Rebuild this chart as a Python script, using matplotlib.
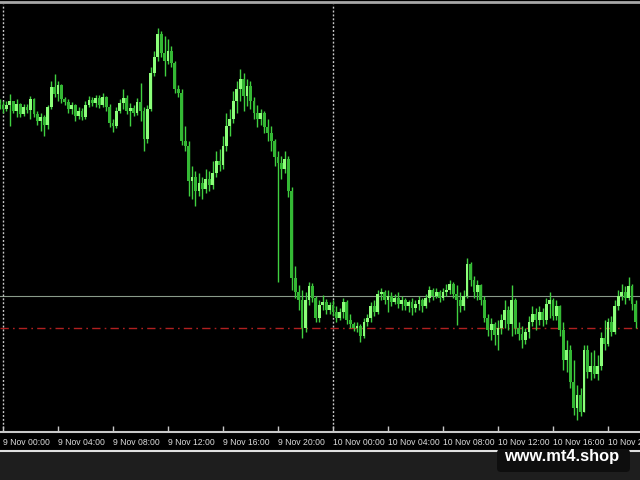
import numpy as np
import pandas as pd
import matplotlib
matplotlib.use("Agg")
import matplotlib.pyplot as plt
import matplotlib.dates as mdates
from matplotlib.patches import FancyBboxPatch, Rectangle
from matplotlib.lines import Line2D

# M15 bars, 8 Nov 23:45 onwards (price in points)
start = "2023-11-08 23:45"
first_open = 348
close = [346, 342, 346, 350, 340, 347, 337, 344, 341, 352, 337, 330, 334, 326, 344, 364,
         357, 366, 352, 349, 342, 346, 335, 340, 334, 346, 351, 348, 353, 346, 354, 344,
         328, 325, 340, 348, 353, 340, 343, 338, 349, 340, 312, 342, 378, 394, 417, 398,
         390, 400, 388, 362, 358, 310, 305, 270, 274, 260, 268, 262, 272, 266, 278, 290,
         286, 305, 325, 332, 350, 362, 372, 355, 365, 350, 338, 332, 338, 324, 318, 310,
         294, 288, 282, 292, 260, 172, 158, 150, 122, 150, 164, 152, 132, 145, 148, 140,
         145, 138, 132, 138, 148, 130, 126, 122, 124, 114, 128, 132, 144, 138, 156, 158,
         150, 154, 148, 152, 146, 150, 144, 148, 142, 146, 150, 144, 152, 160, 154, 158,
         152, 158, 160, 166, 156, 150, 144, 154, 186, 170, 158, 165, 150, 132, 120, 126,
         115, 122, 130, 140, 126, 150, 122, 116, 110, 118, 128, 136, 130, 138, 130, 146,
         150, 134, 144, 120, 90, 100, 68, 42, 55, 38, 100, 78, 84, 76, 84, 112,
         106, 128, 118, 144, 154, 158, 152, 164, 146, 128]
high = [352, 350, 350, 357, 350, 352, 348, 347, 347, 355, 353, 340, 338, 336, 346, 370,
        377, 370, 367, 354, 352, 349, 347, 344, 343, 350, 355, 354, 356, 356, 358, 355,
        347, 332, 344, 352, 362, 356, 348, 346, 353, 368, 344, 346, 384, 400, 423, 420,
        415, 412, 405, 390, 366, 362, 325, 310, 285, 280, 278, 274, 282, 280, 290, 300,
        302, 315, 338, 342, 360, 370, 382, 378, 372, 370, 354, 346, 342, 340, 332, 325,
        312, 300, 295, 300, 295, 264, 184, 165, 160, 158, 168, 167, 154, 150, 155, 151,
        148, 150, 144, 142, 152, 150, 136, 128, 128, 126, 132, 136, 148, 150, 160, 162,
        160, 160, 158, 156, 158, 154, 152, 150, 152, 150, 154, 152, 156, 164, 162, 162,
        160, 162, 166, 170, 168, 165, 158, 160, 192, 188, 174, 170, 166, 154, 136, 132,
        128, 130, 136, 150, 144, 165, 152, 128, 124, 122, 134, 144, 142, 144, 142, 152,
        158, 152, 150, 145, 128, 110, 105, 90, 65, 62, 105, 105, 98, 100, 95, 118,
        130, 132, 134, 150, 160, 166, 164, 173, 166, 150]
low = [342, 338, 340, 325, 338, 334, 334, 335, 338, 332, 334, 326, 320, 315, 322, 342,
       354, 350, 348, 346, 338, 337, 330, 332, 331, 332, 344, 345, 344, 343, 344, 340,
       324, 319, 323, 338, 342, 337, 325, 335, 336, 330, 300, 308, 340, 375, 390, 394,
       375, 387, 384, 358, 354, 306, 300, 255, 252, 245, 255, 252, 258, 260, 262, 274,
       280, 282, 300, 315, 328, 338, 350, 340, 345, 342, 332, 324, 326, 318, 310, 300,
       285, 168, 272, 278, 254, 160, 152, 140, 112, 118, 145, 148, 128, 128, 140, 136,
       136, 134, 128, 130, 132, 126, 122, 119, 118, 108, 112, 124, 128, 134, 136, 150,
       146, 138, 144, 146, 142, 140, 140, 138, 135, 138, 140, 138, 142, 148, 150, 152,
       148, 150, 154, 156, 152, 125, 138, 140, 152, 164, 152, 150, 145, 128, 114, 110,
       105, 100, 116, 122, 120, 114, 116, 110, 102, 106, 112, 124, 120, 125, 124, 126,
       132, 130, 130, 114, 80, 78, 62, 35, 30, 34, 38, 72, 70, 72, 70, 80,
       100, 104, 114, 116, 140, 150, 146, 150, 140, 122]
bid_line = 154
level_line = 122
separators = ["2023-11-09 00:00", "2023-11-10 00:00"]
tick_times = pd.date_range("2023-11-09 00:00", "2023-11-10 20:00", freq="4h")
tick_labels = [f"{t.day} {t:%b %H:%M}" for t in tick_times]

close = np.array(close, float)
high = np.array(high, float)
low = np.array(low, float)
opens = np.concatenate([[first_open], close[:-1]])
times = pd.date_range(start, periods=len(close), freq="15min")
x = mdates.date2num(times)
bar_w = 15 / 1440

fig = plt.figure(figsize=(6.4, 4.8), dpi=100, facecolor="#1e1e1e")
fig.add_artist(Rectangle((0, 30 / 480), 1, 450 / 480, transform=fig.transFigure,
                         facecolor="black", edgecolor="none", zorder=0))
ax = fig.add_axes([0, 48 / 480, 1, 428 / 480], facecolor="black")

up = close >= opens
ax.vlines(x, low, high, color="#40d040", lw=1.0, zorder=3)
body_lo = np.minimum(opens, close)
body_h = np.maximum(np.abs(close - opens), 0.8)
ax.bar(x[up], body_h[up], bottom=body_lo[up], width=bar_w * 0.82,
       color="#8cff7a", edgecolor="none", zorder=4)
ax.bar(x[~up], body_h[~up], bottom=body_lo[~up], width=bar_w * 0.82,
       color="#34b834", edgecolor="none", zorder=4)

ax.axhline(bid_line, color="#8a9a8a", lw=0.8, zorder=2)
ax.axhline(level_line, color="#b02020", lw=1.0, ls=(0, (6, 3, 1.2, 3)), zorder=2)
for s in separators:
    ax.axvline(mdates.date2num(pd.Timestamp(s)), color="#c8c8c8", lw=1.0,
               ls=(0, (1.4, 1.4)), zorder=2)

t0 = mdates.date2num(pd.Timestamp("2023-11-09 00:00"))
ax.set_xlim(t0 - 3 / 13.75 / 24, t0 + 637 / 13.75 / 24)
ax.set_ylim(18, 447)

for side in ["top", "left", "right"]:
    ax.spines[side].set_visible(False)
ax.spines["bottom"].set_color("#c8c8c8")
ax.spines["bottom"].set_linewidth(1.5)
ax.set_yticks([])
ax.set_xticks(mdates.date2num(tick_times))
ax.set_xticklabels(tick_labels, fontfamily="Liberation Sans", fontsize=6.2, color="#dcdcdc")
ax.tick_params(axis="x", direction="in", length=4, width=1, color="#c8c8c8", pad=4)
for lab in ax.get_xticklabels():
    lab.set_horizontalalignment("left")

# top border
fig.add_artist(Line2D([0, 1], [478.5 / 480, 478.5 / 480], transform=fig.transFigure,
                      color="#a8a8a8", lw=2.0))
# separator under time axis
fig.add_artist(Line2D([0, 1], [29 / 480, 29 / 480], transform=fig.transFigure,
                      color="#e0e0e0", lw=1.5))

# watermark
fig.add_artist(FancyBboxPatch((497, 8), 133, 23, boxstyle="round,pad=0,rounding_size=4",
                              transform=None, facecolor="#0e0e0e", edgecolor="none", zorder=5))
fig.text(562 / 640, (480 - 457) / 480, "www.mt4.shop", ha="center", va="center",
         fontfamily="Liberation Sans", fontweight="bold", fontsize=11.8, color="white", zorder=6)

fig.savefig("out.png", dpi=100, facecolor=fig.get_facecolor())
